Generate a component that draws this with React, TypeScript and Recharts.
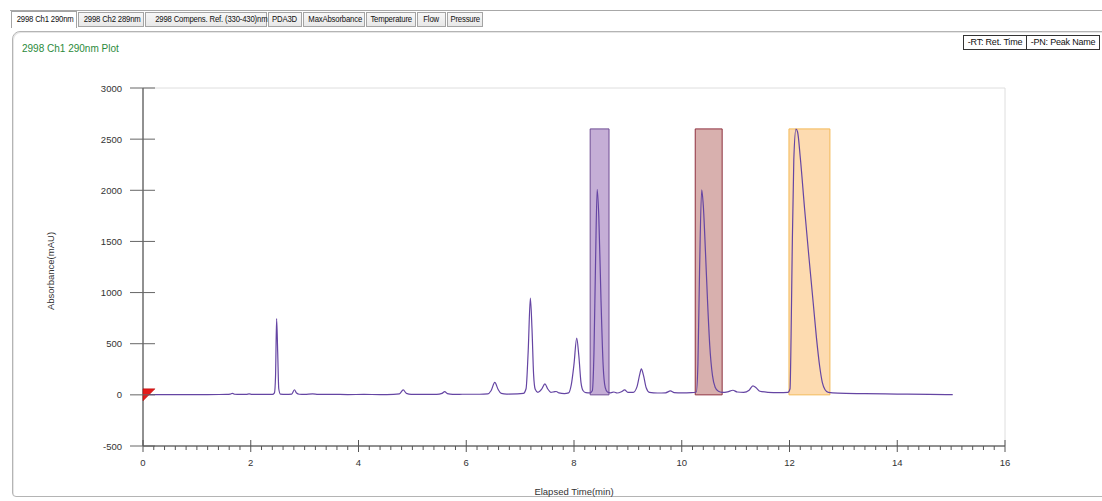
import {
  ComposedChart,
  Line,
  XAxis,
  YAxis,
  ReferenceArea,
  ReferenceDot,
} from 'recharts';

// elapsed time (min) and absorbance (mAU)
const elapsedMin = [
  0.0, 0.4, 0.8, 1.2, 1.55, 1.62, 1.66, 1.7, 1.8, 1.92, 1.97, 2.02, 2.2, 2.4, 2.44, 2.46, 2.48, 2.5, 2.52,
  2.55, 2.65, 2.76, 2.81, 2.85, 2.9, 3.0, 3.15, 3.25, 3.5, 3.8, 4.1, 4.4, 4.65, 4.76, 4.83, 4.89, 4.98,
  5.2, 5.45, 5.55, 5.6, 5.65, 5.75, 6.0, 6.25, 6.4, 6.46, 6.53, 6.59, 6.65, 6.75, 6.95, 7.06, 7.11, 7.15,
  7.19, 7.22, 7.25, 7.28, 7.33, 7.4, 7.46, 7.51, 7.57, 7.63, 7.67, 7.72, 7.82, 7.9, 7.95, 8.0, 8.05, 8.09,
  8.13, 8.17, 8.22, 8.3, 8.34, 8.37, 8.4, 8.43, 8.46, 8.5, 8.54, 8.58, 8.62, 8.68, 8.74, 8.8, 8.88, 8.94,
  9.0, 9.1, 9.17, 9.22, 9.25, 9.29, 9.34, 9.4, 9.55, 9.7, 9.79, 9.86, 10.0, 10.18, 10.27, 10.3, 10.33,
  10.37, 10.4, 10.44, 10.48, 10.52, 10.57, 10.62, 10.68, 10.75, 10.85, 10.95, 11.03, 11.15, 11.25, 11.32,
  11.38, 11.45, 11.6, 11.8, 11.97, 12.01, 12.03, 12.05, 12.08, 12.12, 12.15, 12.2, 12.28, 12.36, 12.44,
  12.5, 12.56, 12.61, 12.66, 12.72, 12.9, 13.4, 14.0, 14.6, 15.03,
];

const absorbance = [
  2, 2, 3, 3, 4, 8, 15, 6, 4, 5, 9, 5, 4, 4, 20, 180, 745, 420, 60,
  8, 5, 8, 50, 18, 6, 4, 9, 4, 5, 3, 4, 3, 5, 10, 48, 14, 4,
  4, 5, 14, 32, 12, 5, 6, 6, 9, 40, 122, 55, 14, 8, 9, 14, 60, 430,
  945, 650, 200, 55, 25, 55, 107, 60, 25, 30, 33, 20, 13, 20, 100, 300, 554, 380,
  120, 40, 22, 20, 40, 400, 1300, 2010, 1750, 950, 300, 70, 28, 20, 28, 18, 30, 48,
  25, 25, 80, 200, 254, 190, 70, 25, 18, 20, 38, 22, 20, 22, 28, 300, 1200,
  2004, 1850, 1400, 900, 480, 190, 75, 35, 25, 30, 45, 28, 25, 45, 88,
  70, 35, 25, 22, 24, 60, 600, 1400, 2300, 2597, 2570, 2320, 1820, 1350, 900,
  560, 280, 120, 50, 25, 16, 12, 8, 4, 2,
];

// integration windows: start, end (min), top (mAU)
const windowStart = [8.3, 10.25, 11.99];
const windowEnd = [8.65, 10.75, 12.75];
const windowTop = [2600, 2600, 2600];
const windowFill = ['#c5aed6', '#d8b0ae', '#fddbb0'];
const windowStroke = ['#6f4c93', '#8e2f3d', '#f3b957'];

const yTicks = [-500, 0, 500, 1000, 1500, 2000, 2500, 3000];
const xMajor = [0, 2, 4, 6, 8, 10, 12, 14, 16];
const xTicks = Array.from({ length: 81 }, (_, i) => Math.round(i * 2) / 10);

const tabs = [
  '2998 Ch1 290nm',
  '2998 Ch2 289nm',
  '2998 Compens. Ref. (330-430)nm',
  'PDA3D',
  'MaxAbsorbance',
  'Temperature',
  'Flow',
  'Pressure',
];
const tabEdges = [11, 78, 145, 268, 303, 366, 417, 447, 484];

const data = elapsedMin.map((t, i) => ({ t, v: absorbance[i] }));

const FONT = "'Liberation Sans', Arial, sans-serif";

function YTick(props: any) {
  const { x, y, payload } = props;
  return (
    <g>
      <line x1={x - 13} x2={x + 12} y1={y} y2={y} stroke="#666" strokeWidth={1} />
      <text x={x - 21} y={y} dy={3.5} textAnchor="end" fontSize={9.5} fill="#333" fontFamily={FONT}>
        {payload.value}
      </text>
    </g>
  );
}

function XTick(props: any) {
  const { x, y, payload } = props;
  const major = xMajor.some((m) => Math.abs(m - payload.value) < 1e-6);
  if (!major) {
    return <line x1={x} x2={x} y1={y} y2={y + 4} stroke="#555" strokeWidth={1} />;
  }
  return (
    <g>
      <line x1={x} x2={x} y1={y - 6} y2={y + 6} stroke="#555" strokeWidth={1} />
      <text x={x} y={y + 20} textAnchor="middle" fontSize={9.5} fill="#333" fontFamily={FONT}>
        {payload.value}
      </text>
    </g>
  );
}

const markerShape = (p: any) => {
  const { cx, cy } = p;
  return (
    <polygon
      points={`${cx},${cy - 6} ${cx + 12},${cy - 6} ${cx},${cy + 6}`}
      fill="#e41b1b"
      stroke="#b00000"
      strokeWidth={0.5}
    />
  );
};

export default function App() {
  return (
    <div
      style={{
        position: 'absolute',
        left: 0,
        top: 0,
        width: 1102,
        height: 501,
        overflow: 'hidden',
        background: '#fff',
        fontFamily: FONT,
      }}
    >
      {/* tab strip */}
      <div style={{ position: 'absolute', left: 10, top: 10, width: 1092, height: 1, background: '#a8a8a8' }} />
      {tabs.map((name, i) => {
        const active = i === 0;
        return (
          <div
            key={name}
            style={{
              position: 'absolute',
              left: tabEdges[i],
              top: active ? 11 : 12,
              width: tabEdges[i + 1] - tabEdges[i] - 1,
              height: active ? 17 : 15,
              boxSizing: 'border-box',
              border: '1px solid #a4a4a4',
              borderBottom: active ? 'none' : '1px solid #a4a4a4',
              background: active ? '#ffffff' : 'linear-gradient(#f7f7f7, #e8e8e8)',
              fontSize: 9,
              lineHeight: active ? '15px' : '13px',
              textAlign: 'center',
              whiteSpace: 'nowrap',
              color: '#111',
            }}
          >
            <span style={{ display: 'inline-block', transform: 'scaleX(0.86)', letterSpacing: -0.2 }}>{name}</span>
          </div>
        );
      })}
      {/* panel */}
      <div
        style={{
          position: 'absolute',
          left: 12,
          top: 31,
          width: 1110,
          height: 466,
          boxSizing: 'border-box',
          border: '1px solid #b4b4b4',
          borderTopLeftRadius: 8,
          borderBottomLeftRadius: 4,
          boxShadow: 'inset 1px 1px 0 #e6e6e6',
        }}
      />
      <div style={{ position: 'absolute', left: 22, top: 43, fontSize: 10, color: '#2b8a3b' }}>
        2998 Ch1 290nm Plot
      </div>
      <div
        style={{
          position: 'absolute',
          left: 963,
          top: 35,
          display: 'flex',
          fontSize: 9,
          color: '#111',
          letterSpacing: -0.2,
        }}
      >
        <div style={{ border: '1px solid #333', width: 64, height: 15, boxSizing: 'border-box', textAlign: 'center', lineHeight: '13px' }}>
          -RT: Ret. Time
        </div>
        <div style={{ border: '1px solid #333', borderLeft: 'none', width: 73, height: 15, boxSizing: 'border-box', textAlign: 'center', lineHeight: '13px' }}>
          -PN: Peak Name
        </div>
      </div>

      <div style={{ position: 'absolute', left: 0, top: 0 }}>
        <ComposedChart width={1102} height={501} data={data} margin={{ top: 88, right: 97, bottom: 5, left: 33 }}>
          <ReferenceArea x1={0} x2={16} y1={-500} y2={3000} fill="none" stroke="#dedede" strokeWidth={1} />
          {windowStart.map((s, i) => (
            <ReferenceArea
              key={`win-${i}`}
              x1={s}
              x2={windowEnd[i]}
              y1={0}
              y2={windowTop[i]}
              fill={windowFill[i]}
              fillOpacity={1}
              stroke={windowStroke[i]}
              strokeWidth={1}
            />
          ))}
          <XAxis
            type="number"
            dataKey="t"
            domain={[0, 16]}
            ticks={xTicks}
            interval={0}
            allowDataOverflow
            height={50}
            tickSize={0}
            tickMargin={0}
            tickLine={false}
            axisLine={{ stroke: '#333' }}
            tick={<XTick />}
            label={{
              content: (p: any) => {
                const vb = p.viewBox;
                return (
                  <text x={vb.x + vb.width / 2} y={vb.y + 49} textAnchor="middle" fontSize={9.5} fill="#333" fontFamily={FONT}>
                    Elapsed Time(min)
                  </text>
                );
              },
            }}
          />
          <YAxis
            type="number"
            domain={[-500, 3000]}
            ticks={yTicks}
            interval={0}
            allowDataOverflow
            width={110}
            tickSize={0}
            tickMargin={0}
            tickLine={false}
            axisLine={{ stroke: '#333' }}
            tick={<YTick />}
            label={{
              content: (p: any) => {
                const vb = p.viewBox;
                const cx = vb.x + 18;
                const cy = vb.y + vb.height / 2 + 4;
                return (
                  <text
                    x={cx}
                    y={cy}
                    transform={`rotate(-90 ${cx} ${cy})`}
                    textAnchor="middle"
                    dy={3}
                    fontSize={9.5}
                    fill="#333"
                    fontFamily={FONT}
                  >
                    Absorbance(mAU)
                  </text>
                );
              },
            }}
          />
          <Line
            type="monotone"
            dataKey="v"
            stroke="#6545a3"
            strokeWidth={1.2}
            dot={false}
            activeDot={false}
            isAnimationActive={false}
          />
          <ReferenceDot x={0} y={0} r={6} shape={markerShape} />
        </ComposedChart>
      </div>
    </div>
  );
}
